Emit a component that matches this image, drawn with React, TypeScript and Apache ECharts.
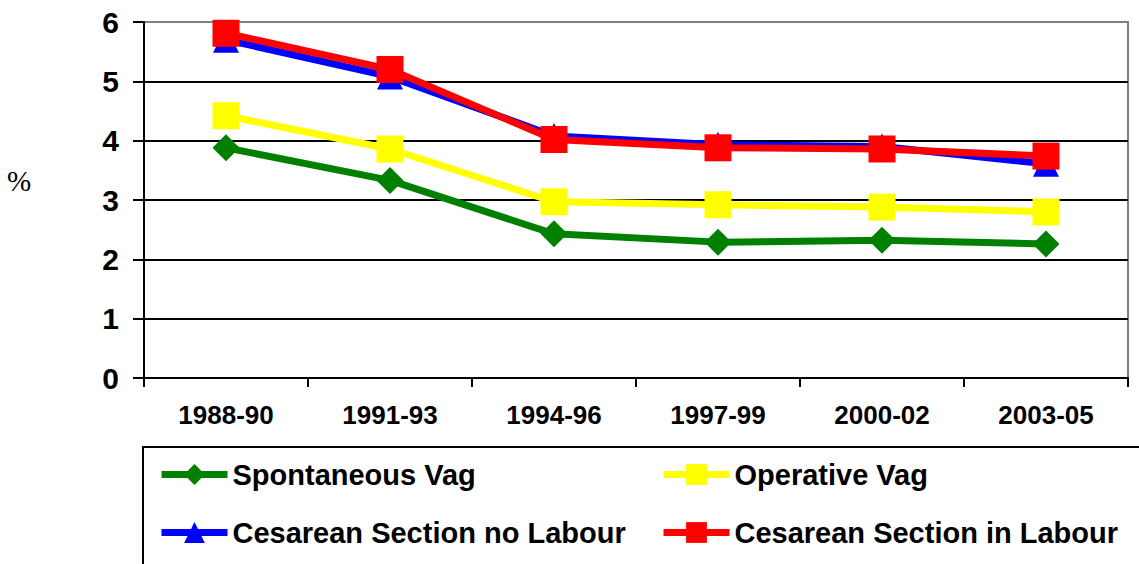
import React, { useEffect, useRef } from "react";
import * as echarts from "echarts";

const categories = ["1988-90", "1991-93", "1994-96", "1997-99", "2000-02", "2003-05"];
const spontaneousVag = [3.88, 3.33, 2.43, 2.29, 2.32, 2.26];
const operativeVag = [4.42, 3.86, 2.97, 2.92, 2.88, 2.8];
const csNoLabour = [5.7, 5.08, 4.08, 3.93, 3.9, 3.61];
const csInLabour = [5.81, 5.2, 4.02, 3.88, 3.86, 3.74];
const yTicks = { min: 0, max: 6, interval: 1 };

const FONT = 'Arial, "Liberation Sans", sans-serif';

export default function App() {
  const ref = useRef<HTMLDivElement>(null);
  useEffect(() => {
    if (!ref.current) return;
    const chart = echarts.init(ref.current, undefined, { renderer: "svg" });
    const mk = (name: string, data: number[], color: string, symbol: string, size: number) => ({
      name,
      type: "line",
      data,
      symbol,
      symbolSize: size,
      lineStyle: { color, width: 7 },
      itemStyle: { color },
      emphasis: { disabled: true },
    });
    const legendBase = {
      orient: "vertical",
      top: 460,
      padding: 0,
      itemWidth: 66,
      itemHeight: 26,
      itemGap: 29,
      lineStyle: { width: 7 },
      textStyle: { color: "#000", fontFamily: FONT, fontWeight: "bold", fontSize: 29 },
      selectedMode: false,
    };
    chart.setOption({
      animation: false,
      grid: {
        left: 144,
        top: 22,
        right: 11,
        bottom: 186,
        show: true,
        borderColor: "#808080",
        borderWidth: 2,
      },
      xAxis: {
        type: "category",
        data: categories,
        boundaryGap: true,
        axisLine: { lineStyle: { color: "#000", width: 2 } },
        axisTick: { show: true, length: 9, lineStyle: { color: "#000", width: 2 } },
        axisLabel: { color: "#000", fontFamily: FONT, fontWeight: "bold", fontSize: 26, margin: 24 },
        splitLine: { show: false },
      },
      yAxis: {
        type: "value",
        min: yTicks.min,
        max: yTicks.max,
        interval: yTicks.interval,
        axisLine: { show: true, lineStyle: { color: "#000", width: 2 } },
        axisTick: { show: true, length: 11, lineStyle: { color: "#000", width: 2 } },
        axisLabel: { color: "#000", fontFamily: FONT, fontWeight: "bold", fontSize: 30, margin: 25 },
        splitLine: {
          show: true,
          lineStyle: { color: ["#000", "#000", "#000", "#000", "#000", "#000", "#808080"], width: 2 },
        },
      },
      legend: [
        { ...legendBase, data: ["Spontaneous Vag", "Cesarean Section no Labour"], left: 158 },
        { ...legendBase, data: ["Operative Vag", "Cesarean Section in Labour"], left: 660 },
      ],
      graphic: [
        {
          type: "rect",
          shape: { x: 143, y: 447, width: 1010, height: 140 },
          style: { fill: "none", stroke: "#000", lineWidth: 2 },
          silent: true,
        },
        {
          type: "text",
          x: 7,
          y: 181,
          style: {
            text: "%",
            fill: "#000",
            font: '29px "Liberation Serif", "Times New Roman", serif',
            verticalAlign: "middle",
          },
        },
      ],
      series: [
        mk("Spontaneous Vag", spontaneousVag, "#008000", "diamond", 27),
        mk("Operative Vag", operativeVag, "#FFFF00", "rect", 27),
        mk("Cesarean Section no Labour", csNoLabour, "#0000FF", "triangle", 26),
        mk("Cesarean Section in Labour", csInLabour, "#FF0000", "rect", 27),
      ],
    });
    return () => chart.dispose();
  }, []);
  return (
    <div
      ref={ref}
      style={{ position: "absolute", left: 0, top: 0, width: 1139, height: 564 }}
    />
  );
}
